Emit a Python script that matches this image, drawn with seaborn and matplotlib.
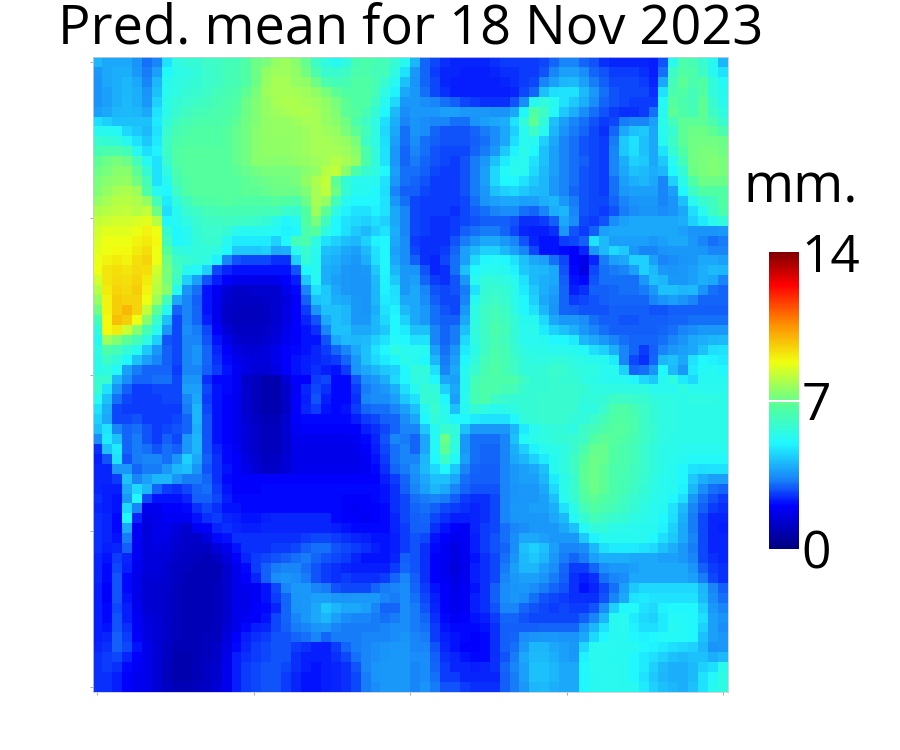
import numpy as np
import matplotlib
matplotlib.use("Agg")
import matplotlib.pyplot as plt
from matplotlib.colors import LinearSegmentedColormap
import seaborn as sns

# predicted mean in tenths of a mm
top_left = [
    [40,38,38,38,35,31,33,47,55,57,57,60,60,62,62,66,70,72,76,77,74,69,60,55,52,55,63,65,63,62,57,52],
    [36,38,39,39,36,32,37,50,54,55,56,59,60,62,63,66,70,75,77,77,75,71,64,58,58,60,64,65,62,62,55,47],
    [35,38,39,40,38,33,40,52,55,56,57,59,60,62,63,66,70,76,78,78,76,75,70,64,62,63,66,66,63,58,52,42],
    [35,37,39,40,39,35,42,53,55,57,58,60,62,63,65,68,72,77,78,78,78,77,75,72,68,66,66,66,62,55,49,38],
    [35,37,39,41,39,36,44,54,57,59,60,61,63,64,66,70,73,76,78,79,79,78,77,75,72,68,66,66,60,52,45,36],
    [37,38,40,41,40,38,47,54,58,61,62,63,64,65,67,70,73,76,77,78,79,79,78,76,73,68,67,63,57,50,41,34],
    [46,44,42,42,42,42,48,56,61,63,64,65,65,66,68,71,73,75,76,76,77,78,78,76,74,71,65,60,55,46,39,33],
    [52,52,51,45,43,41,47,58,63,65,66,66,66,67,69,71,74,75,76,76,76,77,78,77,76,72,68,62,55,45,38,31],
    [58,57,56,52,47,43,48,60,65,66,66,66,66,67,69,71,74,75,75,75,76,77,78,78,77,76,72,60,55,46,37,31],
    [63,64,64,62,52,46,49,60,66,67,67,67,67,67,69,71,74,75,75,75,76,77,78,78,78,77,74,65,56,47,36,30],
    [68,70,72,70,62,52,47,58,66,67,67,67,67,67,69,71,74,74,74,74,75,76,77,78,80,78,76,65,56,47,36,30],
    [70,72,74,74,68,57,47,55,64,67,67,67,67,67,68,69,71,72,72,72,72,74,76,80,82,74,65,58,55,50,37,31],
    [72,74,75,76,71,62,47,52,63,66,67,67,67,67,67,68,69,70,71,71,72,75,79,82,68,57,53,53,52,47,36,31],
    [73,76,78,79,77,65,52,50,60,66,67,67,67,67,67,68,68,69,70,70,70,73,78,81,70,57,52,52,50,46,33,29],
    [76,78,80,80,79,76,62,48,56,61,65,66,66,67,66,66,66,66,67,66,64,70,78,76,62,53,50,50,50,47,36,31],
    [79,80,81,82,80,82,70,46,52,58,60,62,63,63,63,63,63,62,62,59,58,66,77,68,55,49,47,47,49,47,38,33],
    [82,83,84,84,85,86,80,50,52,55,58,60,60,61,60,60,59,57,54,50,52,66,72,61,50,47,45,44,46,44,38,33],
    [84,86,86,86,87,90,88,57,50,52,57,59,59,57,53,52,52,52,51,49,50,64,67,55,50,46,43,41,44,47,39,33],
    [85,88,88,88,90,91,89,61,50,52,56,58,58,52,48,48,48,48,44,50,62,64,55,47,44,42,40,44,49,50,38,34],
    [86,88,89,89,91,93,88,67,56,55,56,56,55,50,43,43,43,44,38,39,53,58,53,42,41,38,37,41,47,50,37,34],
    [87,90,91,90,93,95,88,70,60,58,56,55,49,33,28,27,27,27,25,25,44,57,52,40,39,37,36,39,46,50,38,34],
    [88,92,93,92,94,93,84,72,62,52,51,44,27,24,22,22,22,22,22,22,28,50,52,39,38,36,35,36,43,50,40,36],
    [84,92,94,93,95,91,82,72,60,44,37,28,23,20,18,17,17,17,17,20,23,43,52,39,37,36,35,35,41,49,43,36],
    [80,91,95,94,96,90,80,74,53,35,31,22,19,14,12,12,13,13,13,17,21,33,47,43,38,36,35,35,40,49,46,36],
    [76,90,96,95,95,88,77,62,38,33,29,22,18,13,11,11,11,12,13,15,20,29,42,43,39,38,36,35,40,48,47,38],
    [71,90,96,99,95,82,68,52,30,33,30,22,17,12,11,10,10,11,13,16,20,26,35,42,42,40,36,35,39,47,49,41],
    [62,89,98,96,88,74,59,42,27,33,30,23,18,12,10,10,10,11,13,16,20,24,28,38,42,40,36,36,40,45,50,44],
    [56,89,91,83,74,63,53,36,27,34,32,27,20,14,11,11,11,12,14,17,20,22,25,33,42,42,38,38,40,43,50,48],
    [52,77,73,68,62,55,44,28,27,33,33,28,22,17,13,12,12,13,15,18,20,22,22,28,38,41,40,41,44,47,51,50],
    [55,65,62,57,52,43,36,29,27,33,35,30,24,20,16,14,14,15,17,20,21,22,24,26,30,33,38,42,47,50,55,53],
    [54,60,56,50,42,37,33,29,27,33,35,30,25,21,18,16,15,15,17,20,22,23,24,25,26,30,36,42,45,48,50,54],
    [54,55,51,37,32,30,30,30,26,33,33,29,26,22,19,16,14,14,16,20,22,23,25,23,22,26,35,38,40,43,44,50],
]
top_right = [
    [40,30,27,25,24,24,24,24,25,26,26,26,26,27,30,33,33,30,28,25,24,24,24,24,23,28,53,64,63,58,52,40],
    [36,30,26,24,24,23,23,23,24,25,25,26,26,28,33,37,37,34,30,28,26,26,26,25,23,31,60,66,65,60,52,47],
    [35,30,27,24,23,23,23,23,23,24,25,26,27,33,37,40,41,37,32,29,27,27,27,26,24,38,62,68,64,66,56,51],
    [36,31,27,25,23,23,23,23,23,23,24,27,30,42,46,47,47,41,36,31,28,27,27,27,25,47,64,66,62,66,56,52],
    [36,34,33,31,29,27,26,25,25,25,28,34,52,56,52,47,43,39,34,30,28,27,26,26,26,51,67,64,62,68,58,53],
    [36,36,36,37,37,36,36,36,35,35,38,50,66,60,51,43,39,34,31,28,26,25,25,26,31,52,68,65,63,68,60,55],
    [35,34,33,33,31,31,35,37,38,39,47,56,68,56,42,37,33,31,28,26,27,32,33,33,37,54,62,68,68,68,64,58],
    [35,34,30,28,28,28,30,32,34,38,44,53,60,53,40,35,32,30,27,25,30,38,42,43,38,53,58,68,70,70,68,64],
    [34,31,29,28,28,28,29,31,34,38,46,53,52,44,38,33,31,28,27,26,32,43,47,42,38,52,60,68,71,71,71,70],
    [33,31,28,27,27,27,30,32,36,43,49,54,50,42,37,33,31,28,27,26,33,43,46,42,38,47,57,66,71,72,72,71],
    [32,30,28,27,26,28,32,36,42,48,52,53,47,42,37,33,31,29,27,26,33,39,44,43,38,43,53,62,71,72,73,72],
    [31,29,27,26,26,28,32,37,45,51,53,52,45,41,37,33,31,28,27,26,33,38,42,41,39,40,50,57,70,72,73,72],
    [30,28,26,26,26,28,32,37,45,50,50,47,43,40,36,33,31,28,27,26,31,37,39,40,38,33,44,54,66,70,70,70],
    [29,27,26,26,26,28,32,36,42,44,45,43,41,40,36,33,30,28,27,26,31,36,37,37,37,33,37,50,60,66,66,66],
    [27,26,26,26,26,27,31,35,37,38,38,37,37,39,40,36,32,28,27,27,30,33,35,36,36,33,35,42,53,58,61,66],
    [27,26,26,26,25,27,29,31,33,34,34,31,30,33,39,40,33,28,27,26,28,32,34,35,35,34,35,38,46,53,60,65],
    [27,26,25,25,26,27,28,29,29,29,28,25,25,26,29,38,34,27,26,28,34,37,38,38,38,38,38,39,44,48,53,56],
    [27,26,25,25,26,29,31,32,32,30,27,24,23,23,25,36,28,26,29,37,38,38,38,38,38,38,38,37,35,35,35,36],
    [26,25,25,25,28,32,35,38,38,36,33,28,24,22,22,26,27,29,47,41,37,37,37,37,36,37,38,38,36,33,31,32],
    [27,25,25,26,30,37,40,44,44,40,37,33,27,22,22,21,20,24,36,41,45,43,36,33,33,35,36,36,36,35,33,33],
    [29,25,24,27,31,37,45,50,51,50,47,42,38,37,31,27,20,17,24,32,37,38,44,44,37,33,34,35,36,38,38,37],
    [35,28,24,25,31,42,50,53,53,52,49,43,41,40,38,28,21,16,27,31,32,33,37,44,41,36,35,36,37,39,41,40],
    [37,30,26,25,28,36,53,56,56,55,53,47,41,39,38,29,22,21,28,31,31,31,31,36,42,40,36,36,37,39,38,33],
    [38,33,28,27,28,32,47,57,58,57,54,48,43,39,37,30,23,25,29,29,30,31,31,32,36,42,42,40,41,35,31,30],
    [38,34,29,27,27,33,52,58,60,58,54,50,44,38,36,30,26,27,28,29,30,30,30,30,33,35,37,35,33,30,30,30],
    [38,36,31,28,27,36,55,60,62,60,55,50,47,40,35,30,29,28,28,28,29,29,29,29,28,28,29,29,29,29,29,29],
    [38,36,31,29,29,38,55,60,63,61,57,52,52,45,38,36,36,34,31,29,29,28,28,29,29,29,30,30,31,31,31,31],
    [42,42,33,30,32,42,56,60,64,62,57,53,54,48,44,42,39,36,33,31,29,29,29,29,29,30,31,33,34,36,36,36],
    [47,47,33,30,32,45,55,60,63,61,57,53,53,52,50,50,48,40,38,36,33,31,30,30,30,31,33,35,38,39,40,41],
    [53,52,37,31,35,48,54,60,64,63,58,55,54,54,53,53,52,51,46,44,39,33,30,26,29,33,36,37,38,42,46,47],
    [52,50,40,32,37,50,56,62,65,63,60,56,55,55,56,56,55,54,53,52,48,33,27,25,30,40,42,38,47,50,49,48],
    [56,56,46,33,38,52,58,63,66,63,60,56,56,57,59,58,56,55,55,53,53,44,30,31,35,50,41,36,48,51,52,50],
]
bottom_left = [
    [58,58,40,34,30,30,31,31,27,35,35,25,21,21,19,12,10,8,8,14,20,20,26,27,21,21,28,34,36,39,45,50],
    [58,47,35,29,26,26,27,27,27,37,37,27,22,21,19,13,10,8,8,12,19,24,27,25,21,21,26,32,34,36,39,46],
    [53,42,31,27,26,26,26,27,27,33,38,26,22,20,18,13,10,8,8,12,20,23,28,23,21,21,25,33,34,34,37,43],
    [47,39,27,26,26,26,26,26,26,32,40,27,22,20,18,13,10,8,8,11,20,24,26,22,21,22,26,30,31,31,33,37],
    [44,38,27,27,28,26,26,26,27,30,40,28,22,20,18,14,11,9,9,13,20,21,21,21,21,21,23,26,27,29,30,34],
    [42,47,33,30,31,28,26,27,28,30,39,28,22,20,18,15,12,10,10,13,19,20,20,20,20,20,20,23,25,27,30,33],
    [34,48,42,30,32,28,26,29,27,36,40,28,22,20,18,15,12,10,10,13,18,18,18,18,18,18,19,21,24,28,33,32],
    [25,42,48,30,32,31,28,31,29,36,40,28,24,21,19,15,12,10,10,13,17,17,17,17,17,17,18,20,23,27,31,33],
    [23,28,47,28,32,33,33,31,35,44,38,29,25,21,20,16,13,11,11,14,17,17,17,17,17,17,17,19,22,26,31,33],
    [24,24,36,36,30,32,32,36,40,42,35,28,25,22,20,17,14,12,12,14,17,18,18,18,18,18,18,19,21,25,30,32],
    [24,24,26,42,33,37,40,40,35,32,32,30,25,21,20,20,20,20,20,20,20,20,20,20,20,20,20,20,20,23,26,30],
    [24,23,23,38,45,40,30,26,25,27,30,31,26,22,20,20,20,21,21,21,21,21,21,21,21,21,21,21,21,22,25,29],
    [25,23,22,36,50,27,22,22,22,24,29,29,27,23,21,21,21,21,21,21,21,21,21,21,21,20,20,20,21,22,25,27],
    [24,23,22,45,33,18,18,20,20,21,25,27,25,22,22,21,21,21,21,21,21,21,21,21,21,20,19,20,20,21,25,27],
    [25,24,21,50,24,16,17,19,19,19,22,25,26,24,23,22,22,23,24,24,24,24,24,24,21,20,20,19,20,21,24,27],
    [25,24,21,38,19,15,17,17,15,13,19,20,24,25,24,23,23,24,24,24,24,24,24,24,23,22,21,21,21,21,24,26],
    [25,24,22,32,19,15,17,16,14,12,12,15,21,22,25,25,25,25,25,25,25,26,27,27,26,25,24,23,22,22,23,26],
    [25,23,24,29,19,15,16,15,13,12,11,11,15,18,22,25,25,25,26,26,27,29,31,31,28,27,26,25,23,22,23,26],
    [24,22,26,24,19,15,15,14,12,11,10,9,11,15,20,24,26,27,28,29,31,32,30,28,27,26,24,22,22,22,24,29],
    [24,21,27,23,18,15,15,13,11,10,9,9,9,13,18,21,26,29,32,33,33,31,28,26,25,24,23,23,23,23,26,30],
    [24,21,28,21,17,14,14,13,11,9,9,9,9,13,17,20,24,29,34,35,34,32,28,26,25,26,25,25,25,26,30,33],
    [23,20,28,21,17,14,13,12,10,9,9,9,10,13,17,18,19,22,27,33,36,36,33,32,28,27,27,27,30,32,33,34],
    [23,20,28,22,17,14,13,12,10,9,9,9,10,13,17,17,19,22,26,30,35,36,37,37,36,35,36,36,36,33,32,34],
    [23,21,27,23,18,14,13,12,10,9,9,9,10,13,17,17,20,21,24,30,35,36,38,43,40,38,38,37,33,30,30,34],
    [23,21,28,23,19,15,14,12,10,9,9,9,10,13,17,19,20,22,27,30,33,36,38,40,37,34,33,33,32,31,32,34],
    [23,22,28,25,19,16,14,12,10,9,9,9,10,14,17,21,23,24,27,29,32,33,35,36,33,32,32,32,32,33,34,34],
    [23,24,29,26,20,16,14,12,10,9,9,10,10,15,20,23,25,26,28,28,30,31,33,30,32,32,32,33,33,33,34,35],
    [24,25,29,27,22,17,14,11,9,9,9,10,12,16,21,24,26,27,28,28,26,25,23,23,26,30,32,33,34,35,36,36],
    [25,26,27,24,20,17,14,11,8,8,9,10,12,17,23,25,26,27,28,28,25,23,23,23,25,27,31,33,34,35,36,36],
    [25,26,25,21,19,17,14,10,8,8,9,11,13,18,23,26,27,28,28,27,25,23,22,23,24,25,28,33,35,36,36,36],
    [25,25,23,20,18,17,14,10,8,8,9,11,13,18,23,26,27,28,28,26,24,22,22,23,24,25,27,32,35,36,36,36],
    [25,25,23,20,18,17,14,11,9,9,10,11,14,18,23,26,27,28,28,26,24,22,22,23,24,25,27,32,34,36,36,36],
]
bottom_right = [
    [55,55,50,38,37,52,62,64,65,65,65,60,57,57,58,57,57,55,54,53,52,52,50,45,43,52,55,48,45,52,52,52],
    [52,57,56,44,38,52,63,65,65,63,62,58,57,57,58,58,58,57,55,55,55,55,55,55,53,53,53,55,53,53,53,53],
    [47,57,57,50,37,53,63,65,60,58,57,57,57,58,58,58,58,56,56,57,60,60,59,58,56,55,55,54,55,55,55,54],
    [42,52,58,53,42,52,57,55,53,54,55,57,57,58,58,58,58,55,55,59,64,66,63,60,57,55,55,54,54,54,54,54],
    [38,50,56,54,50,50,48,47,47,47,50,56,57,58,58,58,56,56,59,62,66,66,64,60,57,55,55,54,54,54,54,54],
    [33,43,52,58,56,42,36,36,36,36,40,48,53,55,56,56,55,60,62,65,67,67,64,60,58,55,55,54,54,54,54,54],
    [30,38,51,70,56,36,31,31,31,33,42,51,54,55,56,57,58,60,66,68,67,66,63,60,57,55,54,54,54,54,54,54],
    [30,38,51,68,55,36,31,30,30,33,39,44,49,53,54,55,58,64,69,69,66,64,62,59,56,54,54,53,53,53,53,53],
    [33,40,50,60,51,37,31,30,30,33,38,40,44,48,52,55,60,67,70,69,66,64,62,59,56,54,53,52,51,51,51,51],
    [35,41,45,50,43,33,30,29,29,33,36,37,38,42,52,55,60,68,70,68,65,64,61,59,56,54,52,50,47,46,47,47],
    [34,38,42,42,38,31,29,29,29,33,36,37,37,40,48,54,58,68,70,68,65,63,61,58,55,53,52,50,43,39,37,37],
    [33,37,40,38,33,30,28,28,28,33,35,36,36,38,45,54,58,67,70,68,65,63,60,57,55,53,52,49,40,34,31,30],
    [31,32,33,32,29,26,25,25,27,33,35,36,36,37,42,53,57,66,68,66,64,61,58,56,54,53,50,46,36,31,28,26],
    [30,31,29,27,26,25,24,25,27,33,36,36,37,37,39,47,54,62,66,64,62,60,57,55,53,52,47,41,33,29,26,25],
    [29,30,27,25,23,23,24,25,27,33,35,36,36,36,38,41,51,57,62,60,58,57,55,54,53,50,46,39,32,27,24,24],
    [29,29,25,22,20,19,24,26,27,31,33,34,36,36,36,38,42,51,56,56,54,54,53,52,52,49,44,38,32,27,24,23],
    [28,27,22,20,18,19,23,26,28,31,34,38,38,37,36,36,36,43,49,52,52,52,52,52,50,46,43,38,33,27,24,24],
    [28,25,21,19,16,19,23,26,28,30,34,42,44,42,37,33,33,34,40,46,48,48,48,47,45,42,39,36,32,27,24,24],
    [28,25,20,19,16,18,22,25,27,31,35,41,43,40,36,32,30,32,37,39,39,39,38,38,38,37,37,36,33,27,25,24],
    [28,25,20,18,15,18,23,25,27,32,37,40,40,37,34,30,26,26,30,34,36,36,37,38,38,38,38,38,35,29,26,25],
    [29,25,20,19,16,18,23,25,27,33,36,37,37,35,32,29,25,23,25,31,33,34,38,38,38,38,38,38,37,32,27,25],
    [30,26,22,20,17,19,22,25,29,34,35,36,34,32,30,28,25,22,24,27,31,37,43,45,45,45,45,45,45,40,33,29],
    [31,27,23,20,18,19,23,25,29,34,36,34,31,28,27,26,25,25,25,28,33,38,47,48,47,47,47,47,47,41,34,31],
    [32,28,24,20,18,19,23,25,28,33,33,30,28,27,26,27,26,26,28,34,44,50,51,47,45,49,50,50,50,44,36,33],
    [32,30,25,21,19,20,22,23,26,30,30,28,27,27,27,27,27,29,33,40,52,53,48,45,44,48,51,51,50,46,37,35],
    [32,31,26,22,21,21,21,22,25,29,29,29,29,30,30,30,30,35,40,47,52,53,49,46,46,48,52,51,50,44,37,34],
    [33,32,26,23,22,21,20,21,25,29,30,34,35,36,36,35,35,38,45,50,52,52,50,49,50,51,51,51,50,42,37,36],
    [33,33,28,24,22,20,20,21,25,29,31,36,40,40,38,37,36,45,52,53,53,52,52,50,49,48,46,45,44,40,35,36],
    [34,34,29,25,24,22,21,21,25,28,32,38,41,41,39,37,36,49,53,53,52,52,50,48,46,44,42,41,42,42,39,41],
    [33,34,30,26,24,24,23,24,25,30,33,37,42,42,40,38,38,50,53,53,53,52,50,48,44,41,39,39,41,44,46,54],
    [33,34,31,26,26,24,24,24,24,29,32,37,42,42,40,38,38,50,52,53,53,52,50,47,43,40,39,39,41,47,51,55],
    [33,35,32,28,28,26,25,25,25,29,32,36,40,41,39,38,38,50,52,53,53,52,52,48,44,42,40,39,42,47,52,55],
]
cbar_ticks = [0, 7, 14]
grid_ticks = [0.5, 16.25, 32, 47.75, 63.5]

sns.set_theme(style="white")
plt.rcParams['font.family'] = ['Open Sans', 'DejaVu Sans']

pred_mean = np.block([[np.array(top_left), np.array(top_right)],
                      [np.array(bottom_left), np.array(bottom_right)]]) / 10

rain_cmap = LinearSegmentedColormap.from_list("rain", [
    (0.0, "#00007f"), (0.145, "#0000ff"), (0.23, "#1880f8"), (0.355, "#20f8ff"),
    (0.475, "#50ffa0"), (0.63, "#f0ff10"), (0.76, "#ff8c00"), (0.89, "#ff0000"), (1.0, "#800000")])

fig = plt.figure(figsize=(9, 7.5), dpi=100)
ax = fig.add_axes([92.5 / 900, 58 / 750, 635.5 / 900, 635 / 750])
cax = fig.add_axes([769 / 900, 201 / 750, 30 / 900, 297 / 750])

sns.heatmap(pred_mean, ax=ax, cbar_ax=cax, cmap=rain_cmap, vmin=0, vmax=14,
            xticklabels=False, yticklabels=False, square=False,
            cbar_kws={"ticks": cbar_ticks})

ax.set_xticks(grid_ticks)
ax.set_yticks(grid_ticks)
ax.set_xticklabels([])
ax.set_yticklabels([])
ax.tick_params(length=2, width=0.6, color="#999999", bottom=True, left=True)
for side in ax.spines.values():
    side.set_visible(True)
    side.set_color("#cccccc")
    side.set_linewidth(0.6)

ax.set_title("Pred. mean for 18 Nov 2023", fontsize=39, color="black", pad=5)

cax.tick_params(labelsize=37, length=0, pad=2, labelcolor="black")
cax.axhline(7, color="white", lw=1.5)
cax.spines[:].set_visible(False)
fig.text(801 / 900, 1 - 188 / 750, "mm.", fontsize=39, ha="center", va="center", color="black")

fig.savefig("out.png", dpi=100)
